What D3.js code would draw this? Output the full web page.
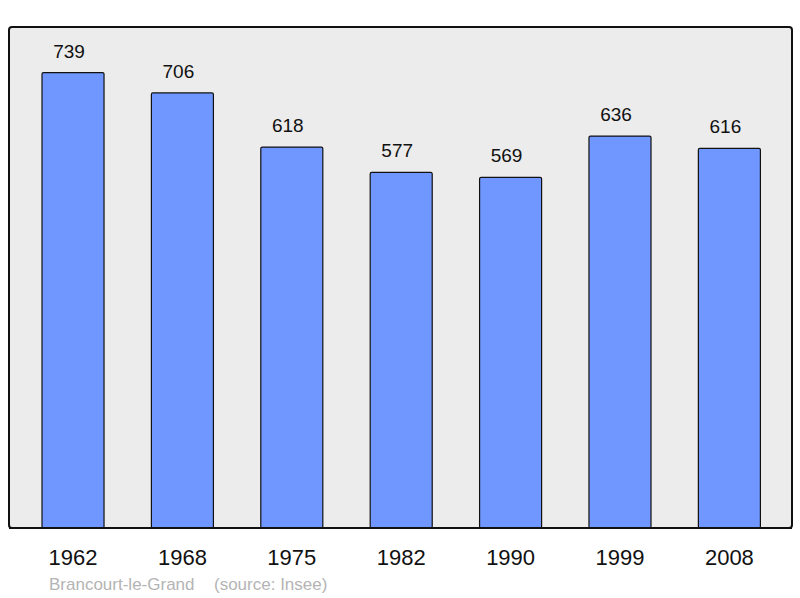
<!DOCTYPE html>
<html><head><meta charset="utf-8">
<script src="https://cdn.jsdelivr.net/npm/d3@7"></script>
<style>body{margin:0;background:#fff}svg{display:block}</style>
</head><body>
<script>
const years = ["1962","1968","1975","1982","1990","1999","2008"];
const population = [739,706,618,577,569,636,616];
const placeName = "Brancourt-le-Grand";
const sourceLabel = "(source: Insee)";

const W = 800, H = 598;
const svg = d3.select("body").append("svg").attr("width", W).attr("height", H);
const frame = {x0: 9, y0: 27, x1: 792, y1: 528};
const font = "Liberation Sans, Arial, sans-serif";

svg.append("rect").attr("x", frame.x0).attr("y", frame.y0)
  .attr("width", frame.x1 - frame.x0).attr("height", frame.y1 - frame.y0)
  .attr("rx", 3).attr("fill", "#ececec").attr("stroke", "#111").attr("stroke-width", 2);

const x = d3.scaleBand().domain(years).range([42, 760.4]).paddingInner(0.433).paddingOuter(0);
const y = d3.scaleLinear().domain([0, d3.max(population) * 1.1]).range([frame.y1, frame.y0]);

const data = years.map((yr, i) => ({yr, v: population[i]}));

svg.selectAll("rect.bar").data(data).enter().append("rect").attr("class", "bar")
  .attr("x", d => x(d.yr)).attr("y", d => y(d.v))
  .attr("width", x.bandwidth()).attr("height", d => y(0) - y(d.v))
  .attr("rx", 1.5).attr("fill", "#7097ff").attr("stroke", "#111").attr("stroke-width", 1.2);

svg.selectAll("text.val").data(data).enter().append("text").attr("class", "val")
  .attr("x", d => x(d.yr) + x.bandwidth() / 2 - 4).attr("y", d => y(d.v) - 15)
  .attr("text-anchor", "middle").attr("font-family", font)
  .attr("font-size", 19).attr("fill", "#111").text(d => d.v);

svg.append("line").attr("x1", frame.x0).attr("x2", frame.x1).attr("y1", frame.y1).attr("y2", frame.y1)
  .attr("stroke", "#111").attr("stroke-width", 2);

const xAxis = d3.axisBottom(x).tickSize(0).tickPadding(0);
const g = svg.append("g").attr("transform", `translate(0,${frame.y1})`).call(xAxis);
g.select(".domain").remove();
g.selectAll("text").attr("font-family", font)
  .attr("font-size", 22).attr("fill", "#111").attr("dy", null).attr("y", 37);

svg.append("text").attr("x", 49).attr("y", 590).attr("font-family", font)
  .attr("font-size", 17).attr("fill", "#b4b4b4").text(placeName);
svg.append("text").attr("x", 214).attr("y", 590).attr("font-family", font)
  .attr("font-size", 17).attr("fill", "#b4b4b4").text(sourceLabel);
</script>
</body></html>
